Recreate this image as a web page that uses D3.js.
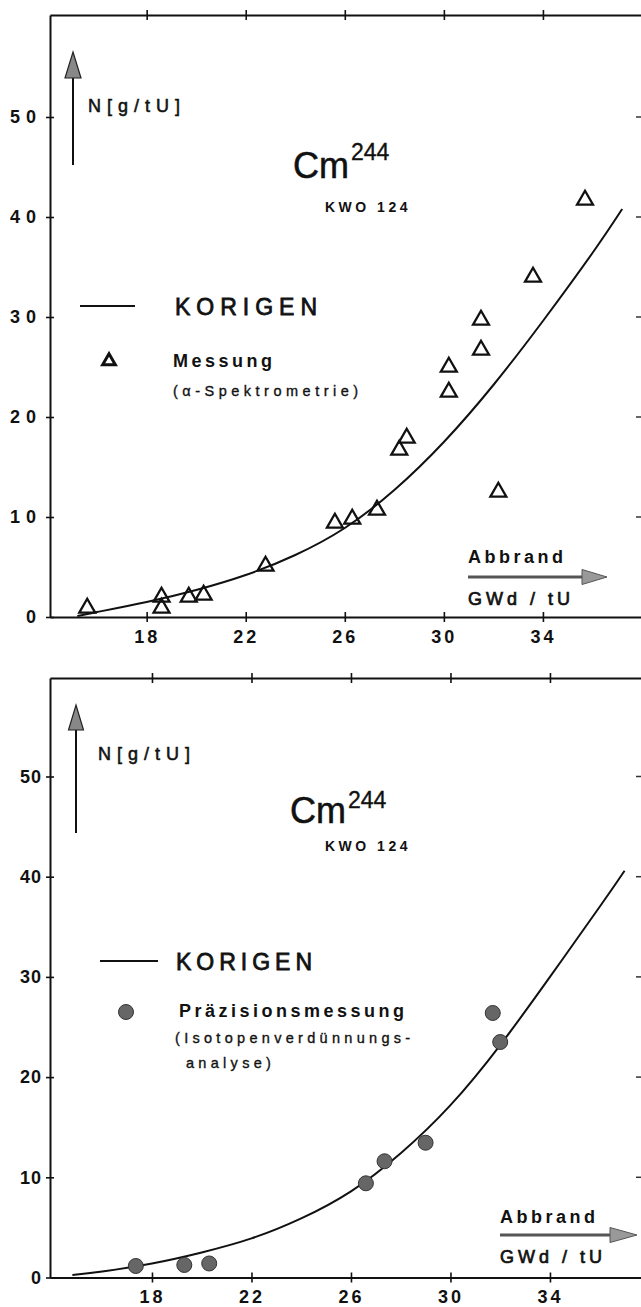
<!DOCTYPE html>
<html>
<head>
<meta charset="utf-8">
<script src="https://cdn.jsdelivr.net/npm/d3@7"></script>
<style>
  html, body { margin: 0; padding: 0; background: #fff; }
  svg { display: block; }
  text { font-family: "Liberation Sans", Arial, Helvetica, sans-serif; fill: #111; }
  .med { stroke: #111; stroke-width: 0.55px; }
</style>
</head>
<body>
<svg id="chart" width="641" height="1307"></svg>
<script>
// Axis ticks
const xTicks = [18, 22, 26, 30, 34];
const yTicks = [0, 10, 20, 30, 40, 50];

// Upper diagram: KORIGEN calculation and alpha-spectrometry measurements
const topCurveX = [15.2, 16, 18, 20, 22, 24, 26, 28, 30, 32, 34, 36, 37.2];
const topCurveY = [0.1, 0.5, 1.5, 2.7, 4.2, 6.2, 8.9, 12.7, 17.5, 23.2, 29.6, 36.4, 40.8];
const messungX = [15.6, 18.6, 18.6, 19.7, 20.3, 22.8, 25.6, 26.3, 27.3, 28.2, 28.5, 30.2, 30.2, 31.5, 31.5, 32.2, 33.6, 35.7];
const messungY = [0.9, 2.0, 0.9, 2.0, 2.2, 5.1, 9.4, 9.8, 10.7, 16.7, 17.9, 22.5, 25.0, 26.7, 29.7, 12.5, 34.0, 41.7];

// Lower diagram: KORIGEN calculation and isotope dilution analysis
const botCurveX = [14.8, 16, 18, 20, 22, 24, 26, 28, 30, 32, 34, 36, 37.0];
const botCurveY = [0.25, 0.6, 1.4, 2.5, 3.9, 5.9, 8.6, 12.4, 17.2, 23.2, 30.0, 37.0, 40.6];
const praezX = [17.35, 19.3, 20.3, 26.6, 27.35, 29.0, 31.7, 32.0];
const praezY = [1.15, 1.25, 1.4, 9.4, 11.6, 13.45, 26.4, 23.5];

const svg = d3.select("#chart");

const panels = [
  {
    xDomain: [14.097, 37.96], yDomain: [0, 60.2], top: 15, bottom: 617,
    curveX: topCurveX, curveY: topCurveY, ptsX: messungX, ptsY: messungY, marker: "triangle",
    ySpacing: 6, xSpacing: 3,
    arrow: { x: 73, y1: 165, tip: 52, head: 26, half: 8 },
    unit: { x: 88, y: 112 },
    title: { x: 293, y: 178, supY: 160, kwoY: 212 },
    legend: { lineY: 306, lineX1: 80, lineX2: 135, korX: 175, korY: 315, korSp: 6,
              symX: 109, symY: 361, l1: "Messung", l1X: 173, l1Y: 367,
              l2: ["(α-Spektrometrie)"], l2X: [173], l2Y: [396], l2Sp: 4.5 },
    abb: { x: 468, y: 563, arrowY: 577, arrowX2: 607, headLen: 25, gwdY: 605 }
  },
  {
    xDomain: [13.9, 37.66], yDomain: [0, 59.83], top: 678, bottom: 1277.5,
    curveX: botCurveX, curveY: botCurveY, ptsX: praezX, ptsY: praezY, marker: "dot",
    ySpacing: 1, xSpacing: 3,
    arrow: { x: 76, y1: 833, tip: 705, head: 25, half: 7.5 },
    unit: { x: 98, y: 760 },
    title: { x: 290, y: 823, supY: 808, kwoY: 851 },
    legend: { lineY: 961, lineX1: 100, lineX2: 158, korX: 176, korY: 970, korSp: 5,
              symX: 126, symY: 1012, l1: "Präzisionsmessung", l1X: 179, l1Y: 1017,
              l2: ["(Isotopenverdünnungs-", "analyse)"], l2X: [175, 186], l2Y: [1043, 1068], l2Sp: 4.3 },
    abb: { x: 500, y: 1223, arrowY: 1235, arrowX2: 637, headLen: 27, gwdY: 1263 }
  }
];

panels.forEach(p => {
  const x = d3.scaleLinear().domain(p.xDomain).range([50, 641]);
  const y = d3.scaleLinear().domain(p.yDomain).range([p.bottom, p.top]);
  const g = svg.append("g");

  // bottom axis with labels
  const xa = g.append("g").attr("transform", `translate(0,${p.bottom})`)
    .call(d3.axisBottom(x).tickValues(xTicks).tickSizeInner(5).tickSizeOuter(0).tickPadding(8));
  // top border with tick crosses only
  const xt = g.append("g").attr("transform", `translate(0,${p.top})`)
    .call(d3.axisTop(x).tickValues(xTicks).tickSizeInner(5).tickSizeOuter(0).tickFormat(""));
  // left axis
  const ya = g.append("g").attr("transform", "translate(50,0)")
    .call(d3.axisLeft(y).tickValues(yTicks).tickSizeInner(5).tickSizeOuter(0).tickPadding(3));
  [xa, xt].forEach(a => a.selectAll(".tick line").attr("y1", -5).attr("y2", 5));
  ya.selectAll(".tick line").attr("x1", -4).attr("x2", 4);
  [xa, xt, ya].forEach(a => {
    a.select(".domain").attr("stroke", "#111").attr("stroke-width", 2);
    a.selectAll(".tick line").attr("stroke", "#111").attr("stroke-width", 1.6);
  });
  xa.selectAll(".tick text").style("font-size", "18px").style("font-weight", "bold")
    .style("letter-spacing", p.xSpacing + "px").attr("fill", "#111");
  ya.selectAll(".tick text").style("font-size", "18px").style("font-weight", "bold")
    .style("letter-spacing", p.ySpacing + "px").attr("fill", "#111");

  // ticks of the right frame edge
  g.selectAll(".rtick").data(yTicks.filter(v => v > 0)).join("line")
    .attr("x1", 636).attr("x2", 641).attr("y1", d => y(d)).attr("y2", d => y(d))
    .attr("stroke", "#333").attr("stroke-width", 1.5);

  // KORIGEN curve
  const line = d3.line().x(d => x(d[0])).y(d => y(d[1])).curve(d3.curveNatural);
  g.append("path").datum(d3.zip(p.curveX, p.curveY)).attr("d", line)
    .attr("fill", "none").attr("stroke", "#111").attr("stroke-width", 2);

  // measured points
  const pts = d3.zip(p.ptsX, p.ptsY);
  if (p.marker === "triangle") {
    const tri = d3.symbol(d3.symbolTriangle, 110);
    g.selectAll(".pt").data(pts).join("path")
      .attr("transform", d => `translate(${x(d[0])},${y(d[1])})`)
      .attr("d", tri).attr("fill", "none").attr("stroke", "#111").attr("stroke-width", 2.3);
  } else {
    g.selectAll(".pt").data(pts).join("circle")
      .attr("cx", d => x(d[0])).attr("cy", d => y(d[1])).attr("r", 7.5)
      .attr("fill", "#666").attr("stroke", "#333").attr("stroke-width", 1);
  }

  // vertical quantity arrow
  const a = p.arrow;
  g.append("line").attr("x1", a.x).attr("x2", a.x).attr("y1", a.y1).attr("y2", a.tip + a.head - 2)
    .attr("stroke", "#111").attr("stroke-width", 2);
  g.append("path").attr("d", `M${a.x},${a.tip} L${a.x + a.half},${a.tip + a.head} L${a.x - a.half},${a.tip + a.head} Z`)
    .attr("fill", "#888").attr("stroke", "#222").attr("stroke-width", 1.2);
  g.append("text").attr("class", "med").attr("x", p.unit.x).attr("y", p.unit.y)
    .style("font-size", "18px").style("letter-spacing", "6px").text("N[g/tU]");

  // nuclide title
  const t = p.title;
  const cm = g.append("text").attr("class", "med").attr("x", t.x).attr("y", t.y)
    .style("font-size", "36px").text("Cm");
  const cmEnd = t.x + cm.node().getComputedTextLength();
  g.append("text").attr("class", "med").attr("x", cmEnd + 2).attr("y", t.supY)
    .style("font-size", "23px").style("stroke-width", "0.35px").text("244");
  g.append("text").attr("x", 325).attr("y", t.kwoY).style("font-size", "14px").style("font-weight", "bold")
    .style("letter-spacing", "3.5px").text("KWO 124");

  // legend
  const L = p.legend;
  g.append("line").attr("x1", L.lineX1).attr("x2", L.lineX2).attr("y1", L.lineY).attr("y2", L.lineY)
    .attr("stroke", "#111").attr("stroke-width", 2);
  g.append("text").attr("class", "med").attr("x", L.korX).attr("y", L.korY).style("font-size", "23px")
    .style("stroke-width", "0.8px").style("letter-spacing", L.korSp + "px").text("KORIGEN");
  if (p.marker === "triangle") {
    g.append("path").attr("transform", `translate(${L.symX},${L.symY})`)
      .attr("d", d3.symbol(d3.symbolTriangle, 70)).attr("fill", "none").attr("stroke", "#111").attr("stroke-width", 3);
  } else {
    g.append("circle").attr("cx", L.symX).attr("cy", L.symY).attr("r", 7.5)
      .attr("fill", "#666").attr("stroke", "#333").attr("stroke-width", 1);
  }
  g.append("text").attr("x", L.l1X).attr("y", L.l1Y).style("font-size", "18px").style("font-weight", "bold")
    .style("letter-spacing", "3.5px").text(L.l1);
  L.l2.forEach((s, i) => {
    g.append("text").attr("class", "med").attr("x", L.l2X[i]).attr("y", L.l2Y[i]).style("font-size", "14.5px")
      .style("stroke-width", "0.35px").style("letter-spacing", L.l2Sp + "px").text(s);
  });

  // burnup label with arrow
  const b = p.abb;
  g.append("text").attr("x", b.x).attr("y", b.y).style("font-size", "18px").style("font-weight", "bold")
    .style("letter-spacing", "3.5px").text("Abbrand");
  g.append("line").attr("x1", b.x).attr("x2", b.arrowX2 - b.headLen + 2).attr("y1", b.arrowY).attr("y2", b.arrowY)
    .attr("stroke", "#555").attr("stroke-width", 3);
  g.append("path").attr("d", `M${b.arrowX2},${b.arrowY} L${b.arrowX2 - b.headLen},${b.arrowY - 7.5} L${b.arrowX2 - b.headLen},${b.arrowY + 7.5} Z`)
    .attr("fill", "#999").attr("stroke", "#555").attr("stroke-width", 1);
  g.append("text").attr("class", "med").attr("x", b.x).attr("y", b.gwdY).style("font-size", "18px")
    .style("stroke-width", "0.7px").style("letter-spacing", "4px").text("GWd / tU");
});
</script>
</body>
</html>
